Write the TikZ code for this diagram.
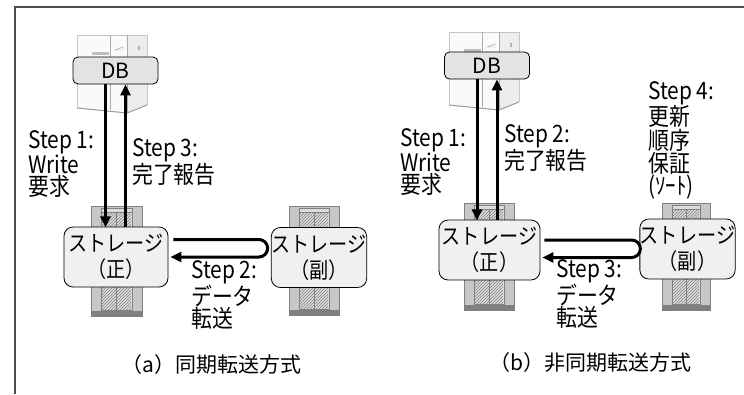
\documentclass[tikz,border=0pt]{standalone}
\usepackage{fontspec}
\setmainfont{Noto Sans CJK JP}
\newfontfamily\narrowjp{Noto Sans CJK JP}[FakeStretch=0.87]
\usetikzlibrary{arrows.meta,patterns}

\definecolor{rackgray}{gray}{0.78}
\definecolor{rackedge}{gray}{0.5}

\tikzset{
  dbbox/.style={draw, rounded corners=5pt, fill=gray!22, line width=0.8pt,
    minimum width=85pt, minimum height=27pt, inner sep=0pt,
    font=\fontsize{21}{21}\selectfont},
  store/.style={draw, rounded corners=9pt, fill=gray!12, line width=0.8pt,
    align=center, inner sep=0pt, minimum height=60pt,
    font=\narrowjp\fontsize{22}{26}\selectfont},
  flow/.style={line width=3pt, -{Triangle[length=11pt,width=10pt]}},
  % anchored on the baseline of the last line
  steplbl/.style={anchor=base west, align=left, inner sep=0pt,
    font=\narrowjp\fontsize{24}{21.8}\selectfont},
  caption/.style={anchor=base west, inner sep=0pt,
    font=\fontsize{21}{21}\selectfont},
  frame/.style={draw=black!70, line width=1.2pt},
}

% server cabinet behind the DB box, #1,#2 = top left corner
\newcommand{\dbserver}[2]{%
  \begin{scope}[shift={(#1,-#2)}]
    \fill[gray!4] (0,-2) -- (50,-2) -- (50,-80) -- (0,-75) -- cycle;
    \fill[gray!14] (50,-2) -- (70,-2) -- (70,-72) -- (50,-80) -- cycle;
    \draw[gray!45] (0,-75) -- (0,-2) -- (70,-2) -- (70,-72);
    \draw[gray!65] (33,-2) -- (33,-77) (50,-2) -- (50,-80);
    \draw[gray!80, line width=1pt] (0,-75) -- (50,-80) -- (70,-72);
    \fill[gray!50] (15,-19) rectangle (32,-22);
    \draw[gray!80] (38,-17) -- (46,-17) -- (46,-14) -- cycle;
    \fill[gray!60] (61,-13) rectangle (63,-17);
  \end{scope}}

% storage rack, #1,#2 = top left corner, #3 = width, #4 = height
\newcommand{\rack}[4]{%
  \begin{scope}[shift={(#1,-#2)}]
    \draw[rackedge, fill=rackgray] (0,0) rectangle (#3,-#4);
    \draw[rackedge, fill=rackgray!60] (10,-2) rectangle (#3-10,-#4+6);
    \fill[pattern=north east lines, pattern color=gray] (11,-6) rectangle (#3-11,-#4+7);
    \draw[rackedge] (10,-6) -- (#3-10,-6);
    \draw[rackedge] (#3/2,-6) -- (#3/2,-#4+6);
    \fill[rackedge] (0,-#4+5) rectangle (#3,-#4);
  \end{scope}}

\begin{document}
\begin{tikzpicture}[x=1pt,y=1pt]
  \useasboundingbox (0,0) rectangle (744,-394);
  \draw[frame] (15,-394) -- (15,-7) -- (744,-7);

  % (a) synchronous
  \dbserver{77}{33}
  \node[dbbox] (dba) at (115.5,-70.5) {DB};
  \rack{91}{206}{51}{110}
  \rack{289}{206}{50}{109}
  \node[store, minimum width=104pt] (saa) at (116,-257) {ストレージ\\（正）};
  \node[store, minimum width=94pt] (sba) at (319,-257.5) {ストレージ\\（副）};

  \draw[flow] ([xshift=-10pt]dba.south) -- ++(0,-143);
  \draw[flow] ([xshift=10pt]dba.south) ++(0,-143) -- ([xshift=10pt]dba.south);
  \draw[flow] ([xshift=5pt,yshift=17.5pt]saa.east) -- ++(85.5,0)
    arc[start angle=90, end angle=-90, radius=8.75] -- ([xshift=2pt]saa.east);

  \node[steplbl] (s1a) at (28,-195) {Step 1:\\Write\\要求};
  \node[steplbl] (s3a) at (132,-183) {Step 3:\\完了報告};
  \node[steplbl] (s2a) at (191,-327) {Step 2:\\データ\\転送};
  \node[caption] (capa) at (121,-372) {（a）同期転送方式};

  % (b) asynchronous
  \dbserver{449}{30}
  \node[dbbox] (dbb) at (487,-65.5) {DB};
  \rack{464}{203}{50}{107}
  \rack{662}{203}{48}{107}
  \node[store, minimum width=101pt] (sab) at (489.5,-250) {ストレージ\\（正）};
  \node[store, minimum width=93pt] (sbb) at (687.5,-249) {ストレージ\\（副）};

  \draw[flow] ([xshift=-10pt]dbb.south) -- ++(0,-141);
  \draw[flow] ([xshift=10pt]dbb.south) ++(0,-141) -- ([xshift=10pt]dbb.south);
  \draw[flow] ([xshift=4pt,yshift=10pt]sab.east) -- ++(87.25,0)
    arc[start angle=90, end angle=-90, radius=8.75] -- ([xshift=2pt,yshift=-7.5pt]sab.east);

  \node[steplbl] (s1b) at (400,-193) {Step 1:\\Write\\要求};
  \node[steplbl] (s2b) at (504,-169) {Step 2:\\完了報告};
  \node[steplbl] (s3b) at (556,-326) {Step 3:\\データ\\転送};
  \node[steplbl] (s4b) at (648,-194) {Step 4:\\更新\\順序\\保証\\(ｿｰﾄ)};
  \node[caption] (capb) at (489,-370) {（b）非同期転送方式};
\end{tikzpicture}
\end{document}
